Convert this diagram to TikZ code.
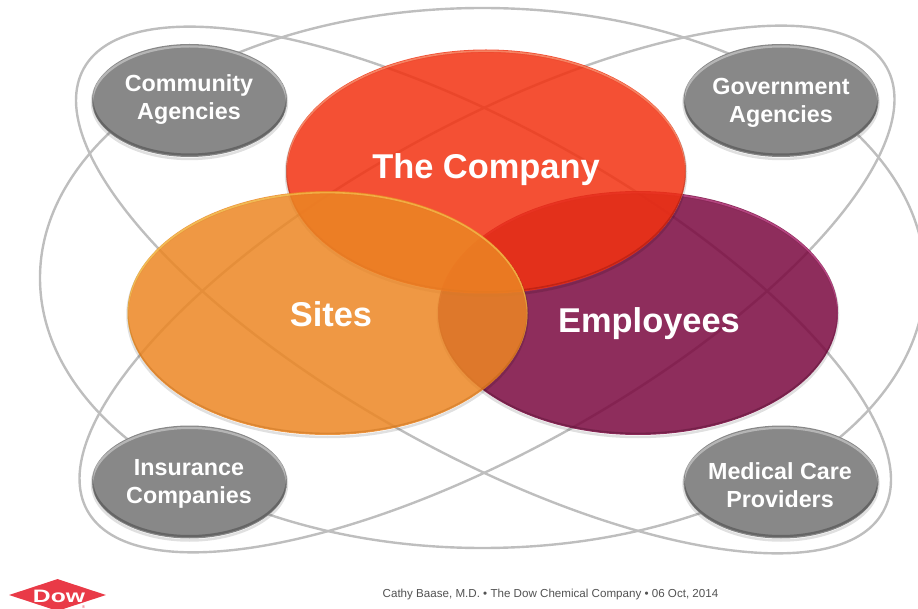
\documentclass[tikz,border=0pt]{standalone}
\usepackage{fontspec}
\setmainfont{Liberation Sans}
\usetikzlibrary{positioning,shapes.geometric,calc}

\definecolor{ringgray}{HTML}{BEBEBE}
\definecolor{satgray}{HTML}{888888}
\definecolor{sitesfill}{RGB}{236,134,35}
\definecolor{companyfill}{RGB}{242,49,17}
\definecolor{staffill}{RGB}{122,8,63}
\definecolor{logored}{HTML}{E93A47}

\begin{document}
\begin{tikzpicture}[
  x=1pt, y=-1pt,
  ring/.style={draw=ringgray, line width=2.4pt},
  softedge/.style={preaction={draw=black, draw opacity=.12, line width=2.5pt, transform canvas={yshift=-2pt}}},
  venn/.style n args={3}{ellipse, minimum width=400pt, minimum height=244pt, inner sep=0pt,
    fill=#1, fill opacity=.85, softedge,
    path picture={
      \draw[#2, draw opacity=.4, line width=1.6pt] ([yshift=-1.6pt]path picture bounding box.center) ellipse (200pt and 122pt);
      \draw[#3, draw opacity=.25, line width=1.6pt] ([yshift=1.6pt]path picture bounding box.center) ellipse (200pt and 122pt);
    }},
  satellite/.style={ellipse, minimum width=195pt, minimum height=113pt, inner sep=0pt,
    fill=satgray, softedge,
    path picture={
      \draw[white, draw opacity=.38, line width=2.2pt] ([yshift=-2.4pt]path picture bounding box.center) ellipse (97.5pt and 56.5pt);
      \draw[black, draw opacity=.25, line width=2.2pt] ([yshift=2.4pt]path picture bounding box.center) ellipse (97.5pt and 56.5pt);
    }},
  satlabel/.style={align=center, text=white, font=\bfseries\fontsize{23.3}{28}\selectfont},
  bigl/.style={text=white, font=\bfseries\fontsize{34.4}{40}\selectfont}
]
  \clip (0,0) rectangle (918,609);

  % Outer rings
  \draw[ring] (482.5,278) ellipse (442.5pt and 270pt);
  \draw[ring, rotate around={-29:(483.5,290)}] (483.5,290) ellipse (457pt and 162.7pt);
  \draw[ring, rotate around={29:(487,289)}] (487,289) ellipse (457pt and 162.7pt);

  % Outer groups
  \node[satellite] (community)  at (189.5,100.5) {};
  \node[satellite] (government) at (781,100.5)   {};
  \node[satellite] (insurance)  at (189.5,482)   {};
  \node[satellite] (medical)    at (781,482)     {};

  \node[satlabel] (communitytext)  at (189,100) {Community\\Agencies};
  \node[satlabel] (governmenttext) at (781,103) {Government\\Agencies};
  \node[satlabel] (insurancetext)  at (189,484) {Insurance\\Companies};
  \node[satlabel] (medicaltext)    at (780,485) {Medical Care\\Providers};

  % Overlapping circles
  \node[venn={staffill}{magenta!55!white}{black!60!staffill}] (employees) at (638,313) {};
  \node[venn={companyfill}{orange!30!white}{black!60!red}]    (company) at (486,171.5) {};
  \node[venn={sitesfill}{yellow!55!white}{black!35!orange}]   (sites) at (327.5,313)   {};

  \node[bigl] (companytext)   at (486,170) {The Company};
  \node[bigl] (sitestext)     at (331,314) {Sites};
  \node[bigl] (employeestext) at (649,324) {Employees};

  % Footer
  \node[diamond, aspect=3, fill=logored, minimum width=97pt, minimum height=32pt, inner sep=0pt] (logo) at (57.5,595) {};
  \node[text=white, font=\bfseries\fontsize{18}{18}\selectfont, xscale=1.37] (logotext) at (59,596) {Dow};
  \node[text=logored, font=\fontsize{4}{4}\selectfont, inner sep=0pt] (logomark) at (83.5,607) {®};
  \node[text=black!68, font=\fontsize{11.6}{13}\selectfont] (footer) at (550.5,594) {Cathy Baase, M.D. • The Dow Chemical Company • 06 Oct, 2014};
\end{tikzpicture}
\end{document}
